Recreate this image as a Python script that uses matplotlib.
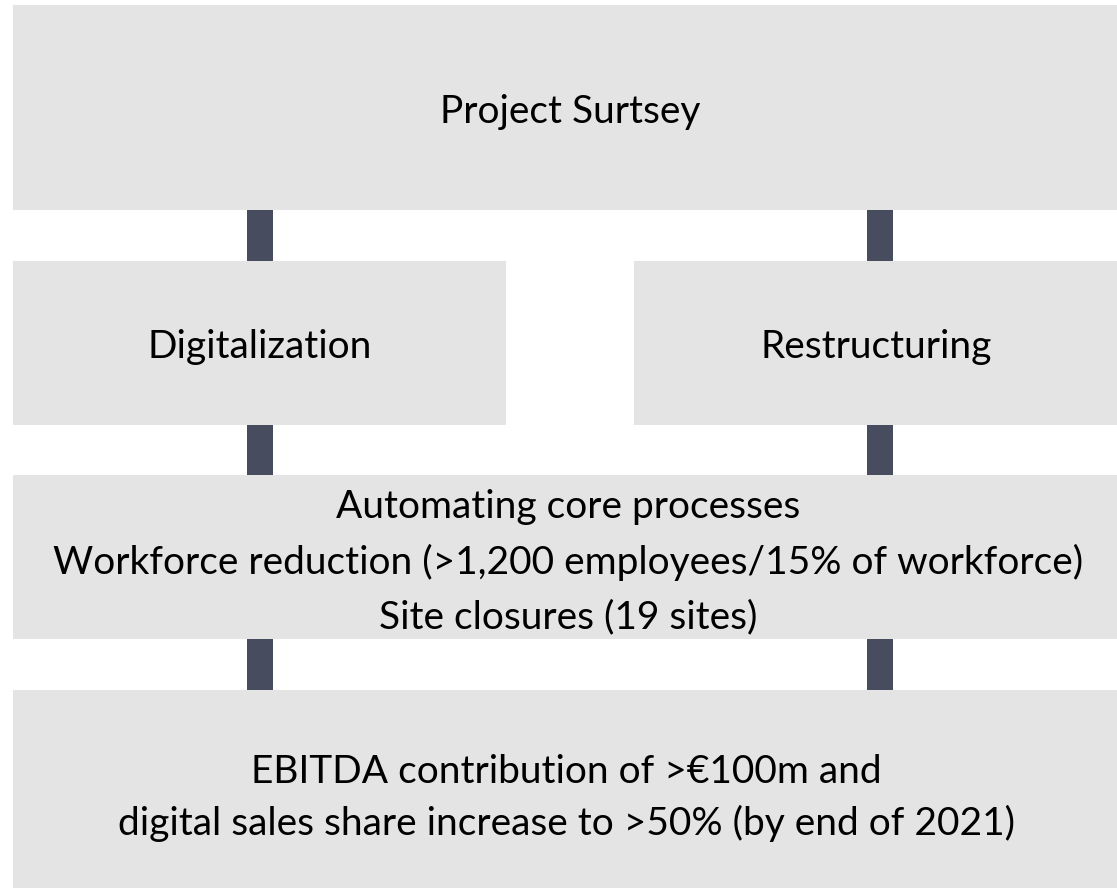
import matplotlib
matplotlib.use("Agg")
import matplotlib.pyplot as plt
from matplotlib.patches import Rectangle

# Diagram content
title_label = "Project Surtsey"
branch_labels = ["Digitalization", "Restructuring"]
measures_lines = [
    "Automating core processes",
    "Workforce reduction (>1,200 employees/15% of workforce)",
    "Site closures (19 sites)",
]
outcome_lines = [
    "EBITDA contribution of >€100m and",
    "digital sales share increase to >50% (by end of 2021)",
]

BOX = "#e4e4e4"
CONN = "#474d5e"
FONT = ["Lato", "DejaVu Sans"]
FS = 28

W, H = 1117, 888
fig = plt.figure(figsize=(W / 100, H / 100), dpi=100)
ax = fig.add_axes([0, 0, 1, 1])
ax.set_xlim(0, W)
ax.set_ylim(H, 0)
ax.axis("off")


def box(x0, y0, x1, y1):
    ax.add_patch(Rectangle((x0, y0), x1 - x0, y1 - y0, facecolor=BOX, edgecolor="none"))


def conn(xc, y0, y1):
    ax.add_patch(Rectangle((xc - 13, y0), 26, y1 - y0, facecolor=CONN, edgecolor="none"))


def label(x, y, s):
    ax.text(x, y, s, ha="center", va="baseline", fontsize=FS, family=FONT, color="#000000")


# boxes
box(13, 5, W, 210)
box(13, 261, 506, 425)
box(634, 261, W, 425)
box(13, 475, W, 639)
box(13, 690, W, H)

# connectors
for xc in (260, 880):
    conn(xc, 210, 261)
    conn(xc, 425, 475)
    conn(xc, 639, 690)

label(570, 123, title_label)
label(260, 358, branch_labels[0])
label(876, 358, branch_labels[1])
for yb, s in zip((518, 574, 628), measures_lines):
    label(568, yb, s)
for yb, s in zip((783, 835), outcome_lines):
    label(566, yb, s)

fig.savefig("out.png", dpi=100)
